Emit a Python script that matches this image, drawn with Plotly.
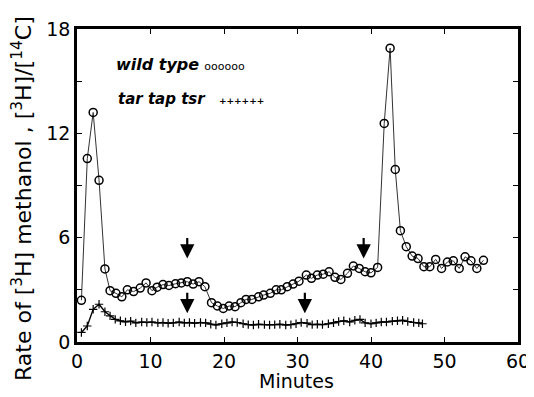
import plotly.graph_objects as go

# ---- data ----
wt_minutes = [0.6, 1.4, 2.2, 3.0, 3.8, 4.5, 5.3, 6.1, 6.85, 7.7, 8.6, 9.4, 10.2, 10.9, 11.7,
              12.5, 13.4, 14.2, 15.0, 15.8, 16.6, 17.4, 18.3, 19.1, 19.9, 20.7, 21.5, 22.3,
              23.0, 23.8, 24.7, 25.4, 26.3, 27.1, 27.8, 28.6, 29.4, 30.2, 31.2, 31.9, 32.7,
              33.5, 34.3, 35.1, 35.9, 36.8, 37.6, 38.4, 39.2, 40.0, 40.9, 41.8, 42.6, 43.3,
              44.0, 44.8, 45.6, 46.4, 47.2, 48.0, 48.8, 49.6, 50.4, 51.2, 52.0, 52.8, 53.6,
              54.4, 55.3]
wt_rate = [2.4, 10.55, 13.2, 9.3, 4.2, 2.95, 2.8, 2.6, 3.0, 2.9, 3.1, 3.4, 2.95, 3.15, 3.3,
           3.25, 3.35, 3.4, 3.47, 3.33, 3.47, 3.18, 2.26, 2.07, 1.93, 2.07, 2.03, 2.26,
           2.45, 2.45, 2.6, 2.7, 2.8, 3.0, 3.0, 3.18, 3.33, 3.5, 3.85, 3.66, 3.85,
           3.9, 4.04, 3.72, 3.6, 3.95, 4.37, 4.23, 4.04, 3.98, 4.29, 12.57, 16.9, 9.92,
           6.4, 5.48, 4.94, 4.8, 4.33, 4.33, 4.75, 4.23, 4.6, 4.67, 4.23, 4.9, 4.67,
           4.23, 4.7]

mut_minutes = [0.6, 1.4, 2.2, 3.0, 3.8, 4.5, 5.2, 5.9, 6.6, 7.3, 8.0, 8.8, 9.5, 10.2, 11.0,
               11.7, 12.4, 13.1, 13.9, 14.6, 15.3, 16.0, 16.8, 17.5, 18.2, 18.9, 19.7, 20.4,
               21.1, 21.8, 22.6, 23.3, 24.0, 24.7, 25.5, 26.2, 26.9, 27.6, 28.4, 29.1, 29.8,
               30.5, 31.3, 32.0, 32.7, 33.4, 34.2, 34.9, 35.6, 36.3, 37.1, 37.8, 38.5, 39.2,
               40.0, 40.7, 41.4, 42.1, 42.9, 43.6, 44.3, 45.0, 45.8, 46.5, 47.0]
mut_rate = [0.55, 0.92, 1.88, 2.17, 1.74, 1.5, 1.3, 1.22, 1.16, 1.2, 1.1, 1.15, 1.12, 1.15, 1.1,
            1.12, 1.08, 1.1, 1.15, 1.1, 1.12, 1.08, 1.12, 1.1, 1.02, 0.98, 1.05, 1.1,
            1.15, 1.12, 1.05, 1.0, 0.98, 1.02, 1.0, 0.98, 1.0, 1.02, 0.98, 1.0, 1.05,
            1.12, 1.08, 1.0, 1.02, 1.0, 1.05, 1.1, 1.18, 1.22, 1.15, 1.25, 1.3, 1.1,
            1.05, 1.1, 1.15, 1.15, 1.2, 1.22, 1.25, 1.18, 1.12, 1.1, 1.05]

arrow_minutes = [15, 15, 31, 39]
arrow_tip_rate = [4.8, 1.65, 1.65, 4.8]

x_ticks = [0, 10, 20, 30, 40, 50, 60]
y_ticks = [0, 6, 12, 18]

FONT = "DejaVu Sans"

# page body has an 8px margin: build the figure 8px smaller and shifted
OFF = 8
W, H = 534 - OFF, 397 - OFF
L, T = 77 - OFF, 29 - OFF
PW, PH = 441, 313
R = W - L - PW
B = H - T - PH


def px_to_paper(px, py):
    # px, py are page pixel coordinates of the reference
    return (px - OFF - L) / PW, (T + PH - (py - OFF)) / PH


fig = go.Figure()
fig.add_trace(go.Scatter(
    x=mut_minutes, y=mut_rate, mode="lines+markers", name="tar tap tsr",
    line=dict(color="black", width=1.4),
    marker=dict(symbol="cross-thin", size=6, line=dict(color="black", width=1.2)),
))
fig.add_trace(go.Scatter(
    x=wt_minutes, y=wt_rate, mode="lines+markers", name="wild type",
    line=dict(color="#333333", width=1),
    marker=dict(symbol="circle-open", size=8, color="black", line=dict(color="black", width=1.5)),
))

for xa, ya in zip(arrow_minutes, arrow_tip_rate):
    fig.add_annotation(x=xa, y=ya, xref="x", yref="y", ax=0, ay=-22, text="",
                       showarrow=True, arrowhead=2, arrowsize=1.3, arrowwidth=2.2,
                       arrowcolor="black")

# legend-like labels
lx, ly = px_to_paper(114, 64)
fig.add_annotation(x=lx, y=ly, xref="paper", yref="paper", xanchor="left", yanchor="middle",
                   showarrow=False,
                   text="<b><i>wild type</i></b> <span style='font-size:11px'>oooooo</span>",
                   font=dict(family=FONT, size=16, color="black"))
lx, ly = px_to_paper(116, 99)
fig.add_annotation(x=lx, y=ly, xref="paper", yref="paper", xanchor="left", yanchor="middle",
                   showarrow=False,
                   text="<b><i>tar tap tsr</i></b>   <span style='font-size:9px'><b>++++++</b></span>",
                   font=dict(family=FONT, size=15, color="black"))

# axis titles
tx, ty = px_to_paper(22, 199)
fig.add_annotation(x=tx, y=ty, xref="paper", yref="paper", showarrow=False,
                   xanchor="center", yanchor="middle",
                   text="Rate of [<sup>3</sup>H] methanol , [<sup>3</sup>H]/[<sup>14</sup>C]",
                   textangle=-90, font=dict(family=FONT, size=22, color="black"))
tx, ty = px_to_paper(296, 381)
fig.add_annotation(x=tx, y=ty, xref="paper", yref="paper", showarrow=False,
                   xanchor="center", yanchor="middle",
                   text="Minutes", font=dict(family=FONT, size=19, color="black"))

axis_common = dict(showline=True, linewidth=2.5, linecolor="black", mirror="ticks",
                   ticks="inside", ticklen=5, tickwidth=1.2, tickcolor="black",
                   showgrid=False, zeroline=False, automargin=False,
                   tickfont=dict(family=FONT, size=19, color="black"))

fig.update_layout(
    width=W, height=H,
    margin=dict(l=L, r=R, t=T, b=B, autoexpand=False),
    paper_bgcolor="white", plot_bgcolor="white",
    showlegend=False,
    xaxis=dict(range=[0, 60], tickvals=x_ticks, ticktext=[str(v) for v in x_ticks],
               **axis_common),
    yaxis=dict(range=[0, 18], tickvals=y_ticks, ticktext=[str(v) for v in y_ticks],
               minor=dict(dtick=3, ticks="inside", ticklen=5, tickcolor="black", tickwidth=1.2),
               **axis_common),
)

fig.write_html("out.html")
